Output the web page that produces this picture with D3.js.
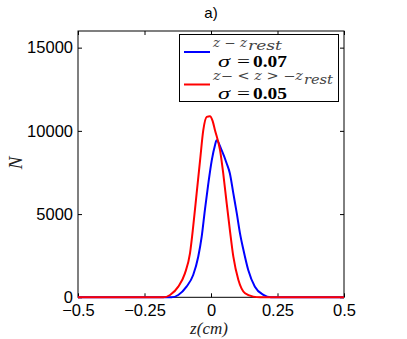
<!DOCTYPE html>
<html>
<head>
<meta charset="utf-8">
<script src="https://cdn.jsdelivr.net/npm/d3@7"></script>
<style>
  body { margin: 0; background: #fff; }
  svg { display: block; }
  .tick text { font-family: "Liberation Sans", Arial, sans-serif; font-size: 16.5px; fill: #000; }
  .math { font-family: "Liberation Serif", "DejaVu Serif", serif; font-style: italic; fill: #000; }
</style>
</head>
<body>
<svg id="chart" width="407" height="339"></svg>
<script>
// data
var zBlue = [-0.5, -0.148, -0.123, -0.092, -0.067, -0.048, -0.035, -0.023, -0.01, 0.003, 0.015, 0.021, 0.040, 0.059, 0.071, 0.084, 0.097, 0.109, 0.122, 0.140, 0.165, 0.197, 0.225, 0.5]
var nBlue = [0, 0, 140, 640, 1340, 2440, 3640, 5240, 6840, 8240, 9140, 9440, 8840, 8040, 7440, 6240, 5040, 3840, 2840, 1640, 640, 140, 0, 0]
var zRed = [-0.5, -0.179, -0.154, -0.123, -0.098, -0.079, -0.067, -0.054, -0.041, -0.029, -0.016, -0.004, 0.006, 0.015, 0.034, 0.046, 0.059, 0.071, 0.084, 0.103, 0.128, 0.159, 0.185, 0.5]
var nRed = [0, 0, 140, 640, 1440, 2640, 4240, 6240, 8240, 10040, 10840, 10880, 10600, 10040, 8840, 7440, 5640, 4040, 2440, 1040, 240, 40, 0, 0]
var xTicks = [-0.5, -0.25, 0, 0.25, 0.5]
var yTicks = [0, 5000, 10000, 15000]

var plotL = 78, plotR = 344, plotT = 31, plotB = 297.3

var svg = d3.select("#chart")

var x = d3.scaleLinear().domain([-0.5, 0.5]).range([plotL, plotR])
var y = d3.scaleLinear().domain([0, 16000]).range([plotB, plotT])

// title
svg.append("text")
  .attr("x", 211).attr("y", 18)
  .attr("text-anchor", "middle")
  .style("font-family", "Liberation Sans, Arial, sans-serif")
  .style("font-size", "15px")
  .text("a)")

// axes, ticks pointing inward
var fmtX = function (d) { return d === 0 ? "0" : String(d).replace("-", "\u2212") }

svg.append("g")
  .attr("transform", "translate(0," + plotB + ")")
  .call(d3.axisBottom(x).tickValues(xTicks).tickSize(-4).tickFormat(fmtX))
  .call(g => g.select(".domain").remove())
  .call(g => g.selectAll("text").attr("dy", "0.71em").attr("y", 6.5))

svg.append("g")
  .attr("transform", "translate(0," + plotT + ")")
  .call(d3.axisTop(x).tickValues(xTicks).tickSize(-4).tickFormat(""))
  .call(g => g.select(".domain").remove())

svg.append("g")
  .attr("transform", "translate(" + plotL + ",0)")
  .call(d3.axisLeft(y).tickValues(yTicks).tickSize(-4).tickFormat(d3.format("d")))
  .call(g => g.select(".domain").remove())
  .call(g => g.selectAll("text").attr("x", -5))

svg.append("g")
  .attr("transform", "translate(" + plotR + ",0)")
  .call(d3.axisRight(y).tickValues(yTicks).tickSize(-4).tickFormat(""))
  .call(g => g.select(".domain").remove())

svg.selectAll(".tick line").attr("stroke", "#000")

svg.append("rect")
  .attr("x", plotL).attr("y", plotT)
  .attr("width", plotR - plotL).attr("height", plotB - plotT)
  .attr("fill", "none").attr("stroke", "#000").attr("stroke-width", 1)

// axis labels
svg.append("text")
  .attr("class", "math")
  .attr("x", 209).attr("y", 333.5)
  .attr("text-anchor", "middle")
  .style("font-size", "17px")
  .style("fill", "#222")
  .text("z(cm)")

svg.append("text")
  .attr("class", "math")
  .attr("transform", "translate(22,163) rotate(-90)")
  .attr("text-anchor", "middle")
  .style("font-size", "19px")
  .style("fill", "#222")
  .text("N")

// curves
var line = d3.line()
  .x(d => x(d[0]))
  .y(d => y(d[1]))
  .curve(d3.curveMonotoneX)

svg.append("path")
  .datum(d3.zip(zBlue, nBlue))
  .attr("d", line)
  .attr("fill", "none")
  .attr("stroke", "#0000ff")
  .attr("stroke-width", 2)

svg.append("path")
  .datum(d3.zip(zRed, nRed))
  .attr("d", line)
  .attr("fill", "none")
  .attr("stroke", "#ff0000")
  .attr("stroke-width", 2)

// legend
var leg = svg.append("g")
leg.append("rect")
  .attr("x", 179.5).attr("y", 34.5)
  .attr("width", 159).attr("height", 67)
  .attr("fill", "#fff").attr("stroke", "#000").attr("stroke-width", 1)

leg.append("line").attr("x1", 184).attr("x2", 210).attr("y1", 52).attr("y2", 52)
  .attr("stroke", "#0000ff").attr("stroke-width", 2)
leg.append("line").attr("x1", 184).attr("x2", 210).attr("y1", 84.5).attr("y2", 84.5)
  .attr("stroke", "#ff0000").attr("stroke-width", 2)

function piece(g, txt, px, py, w, size, opts) {
  opts = opts || {}
  return g.append("text").attr("class", "math")
    .attr("x", px).attr("y", py)
    .attr("textLength", w).attr("lengthAdjust", "spacingAndGlyphs")
    .style("font-family", opts.dejavu ? "DejaVu Serif, serif" : null)
    .style("font-size", size + "px")
    .style("font-style", opts.upright ? "normal" : "italic")
    .style("font-weight", opts.bold ? "bold" : "normal")
    .style("fill", opts.grey ? "#444" : "#000")
    .text(txt)
}

piece(leg, "z \u2212 z", 213, 46.5, 34, 12, { grey: true, dejavu: true })
piece(leg, "rest", 248, 50, 34, 12, { grey: true, dejavu: true })
piece(leg, "\u03c3", 218, 66.5, 12, 17)
piece(leg, "=", 237, 66.5, 13, 17, { upright: true })
piece(leg, "0.07", 253, 66.5, 34, 16, { upright: true, bold: true })

piece(leg, "z\u2212 < z > \u2212z", 213, 80, 90, 12, { grey: true, dejavu: true })
piece(leg, "rest", 304, 83.5, 29, 12, { grey: true, dejavu: true })
piece(leg, "\u03c3", 218, 99, 12, 17)
piece(leg, "=", 237, 99, 13, 17, { upright: true })
piece(leg, "0.05", 253, 99, 34, 16, { upright: true, bold: true })
</script>
</body>
</html>
